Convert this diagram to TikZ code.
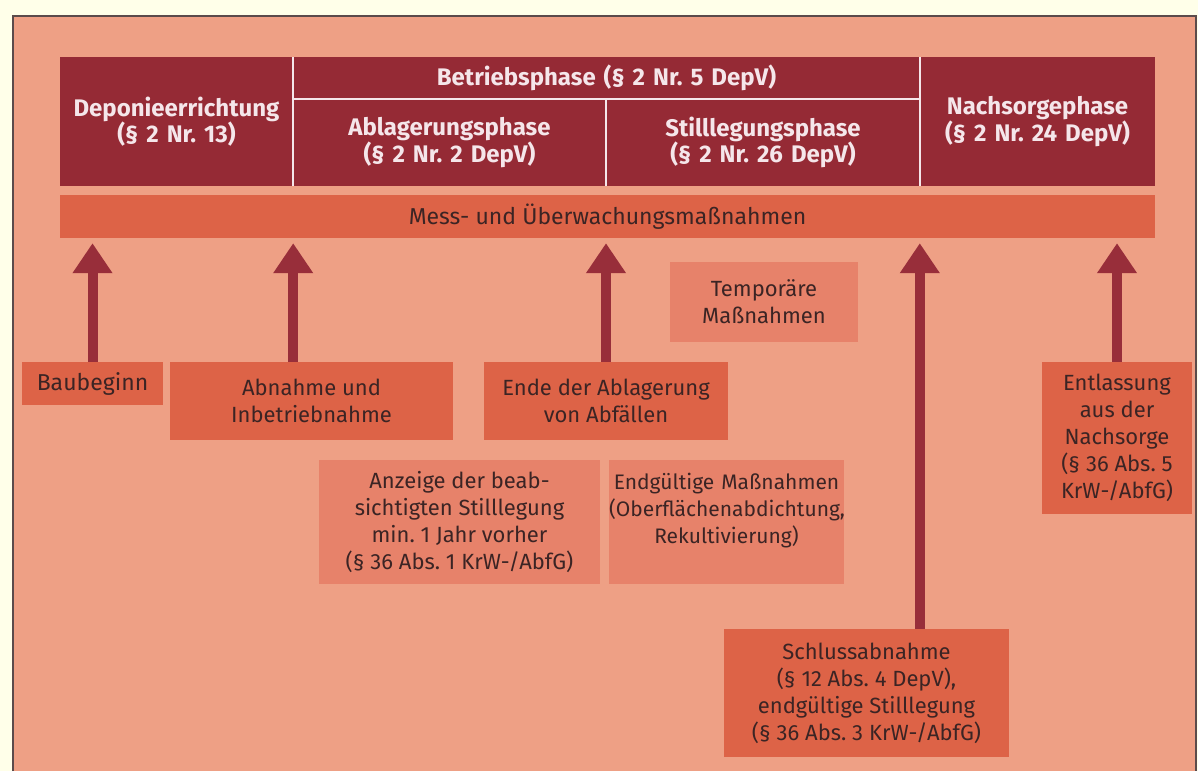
\documentclass[tikz,border=0pt]{standalone}
\usepackage{fontspec}
\setmainfont{Fira Sans}
\usetikzlibrary{arrows.meta}
\definecolor{bgyellow}{HTML}{FFFFE9}
\definecolor{salmon}{HTML}{EEA085}
\definecolor{darkred}{HTML}{952A35}
\definecolor{orangebox}{HTML}{DD6347}
\definecolor{lightbox}{HTML}{E7826A}
\definecolor{arrowred}{HTML}{982E3A}
\definecolor{textdark}{HTML}{3B2424}
\definecolor{hdrtext}{HTML}{F5E6EA}
\definecolor{borderc}{HTML}{5B4B4B}
\frenchspacing
\begin{document}
\frenchspacing
\begin{tikzpicture}[x=1pt,y=-1pt,
  hdr/.style={fill=darkred, text=hdrtext, font=\frenchspacing\bfseries\fontsize{24}{26.5}\selectfont, align=center, inner sep=0pt},
  sepline/.style={draw=hdrtext, line width=2pt},
  obox/.style={fill=orangebox, text=textdark, font=\frenchspacing\fontsize{22}{27}\selectfont, align=center, inner sep=0pt},
  lbox/.style={fill=lightbox, text=textdark, font=\frenchspacing\fontsize{22}{27}\selectfont, align=center, inner sep=0pt},
  arr/.style={draw=arrowred, line width=10pt, -{Triangle[width=38pt,length=30pt]}, shorten >=5pt}]
\useasboundingbox (0,0) rectangle (1198,771);
\fill[bgyellow] (0,0) rectangle (1198,771);
\fill[salmon] (13,16) rectangle (1196,771);
\draw[borderc, line width=2pt] (13,771) -- (13,16) -- (1196,16) -- (1196,771);
% header
\node[hdr, text width=233pt, minimum height=129pt] (depon) at (176.5,121.5) {Deponieerrichtung\\(§ 2 Nr. 13)};
\node[hdr, text width=627pt, minimum height=42pt] (betrieb) at (606.5,78) {Betriebsphase (§ 2 Nr. 5 DepV)};
\node[hdr, text width=313pt, minimum height=87pt] (ablag) at (449.5,142.5) {Ablagerungsphase\\(§ 2 Nr. 2 DepV)};
\node[hdr, text width=314pt, minimum height=87pt] (still) at (763,142.5) {Stilllegungsphase\\(§ 2 Nr. 26 DepV)};
\node[hdr, text width=235pt, minimum height=129pt] (nachs) at (1037.5,121.5) {Nachsorgephase\\(§ 2 Nr. 24 DepV)};
\draw[sepline] (depon.north east) -- (depon.south east);
\draw[sepline] (betrieb.south west) -- (betrieb.south east);
\draw[sepline] (ablag.north east) -- (ablag.south east);
\draw[sepline] (nachs.north west) -- (nachs.south west);
% bar
\node[obox, minimum width=1095pt, minimum height=43pt, font=\fontsize{23}{27}\selectfont] (mess) at (607.5,216.5) {Mess- und Überwachungsmaßnahmen};
% boxes
\node[obox, minimum width=141pt, minimum height=43pt, font=\fontsize{23}{27}\selectfont] (baubeginn) at (92.5,383.5) {Baubeginn};
\node[obox, minimum width=283pt, minimum height=78pt] (abnahme) at (311.5,401) {Abnahme und\\Inbetriebnahme};
\node[obox, minimum width=244pt, minimum height=78pt] (ende) at (606,401) {Ende der Ablagerung\\von Abfällen};
\node[lbox, minimum width=188pt, minimum height=80pt] (temp) at (764,302) {Temporäre\\Maßnahmen};
\node[lbox, minimum width=281pt, minimum height=124pt] (anzeige) at (459.5,522) {Anzeige der beab-\\sichtigten Stilllegung\\min. 1 Jahr vorher\\(§ 36 Abs. 1 KrW-/AbfG)};
\node[lbox, text width=235pt, minimum height=124pt, font=\fontsize{21}{27}\selectfont] (endg) at (726.5,522) {Endgültige Maßnahmen\\(Oberflächenabdichtung,\\Rekultivierung)\\\mbox{}};
\node[obox, minimum width=285pt, minimum height=128pt] (schluss) at (866.5,693) {Schlussabnahme\\(§ 12 Abs. 4 DepV),\\endgültige Stilllegung\\(§ 36 Abs. 3 KrW-/AbfG)};
\node[obox, minimum width=150pt, minimum height=152pt] (entl) at (1117,438) {Entlassung\\aus der\\Nachsorge\\(§ 36 Abs. 5\\KrW-/AbfG)};
% arrows
\draw[arr] (baubeginn.north) -- (baubeginn.north |- mess.south);
\draw[arr] (abnahme.north -| depon.east) -- (depon.east |- mess.south);
\draw[arr] (ende.north) -- (ende.north |- mess.south);
\draw[arr] (schluss.north -| nachs.west) -- (nachs.west |- mess.south);
\draw[arr] (entl.north) -- (entl.north |- mess.south);
\end{tikzpicture}
\end{document}
